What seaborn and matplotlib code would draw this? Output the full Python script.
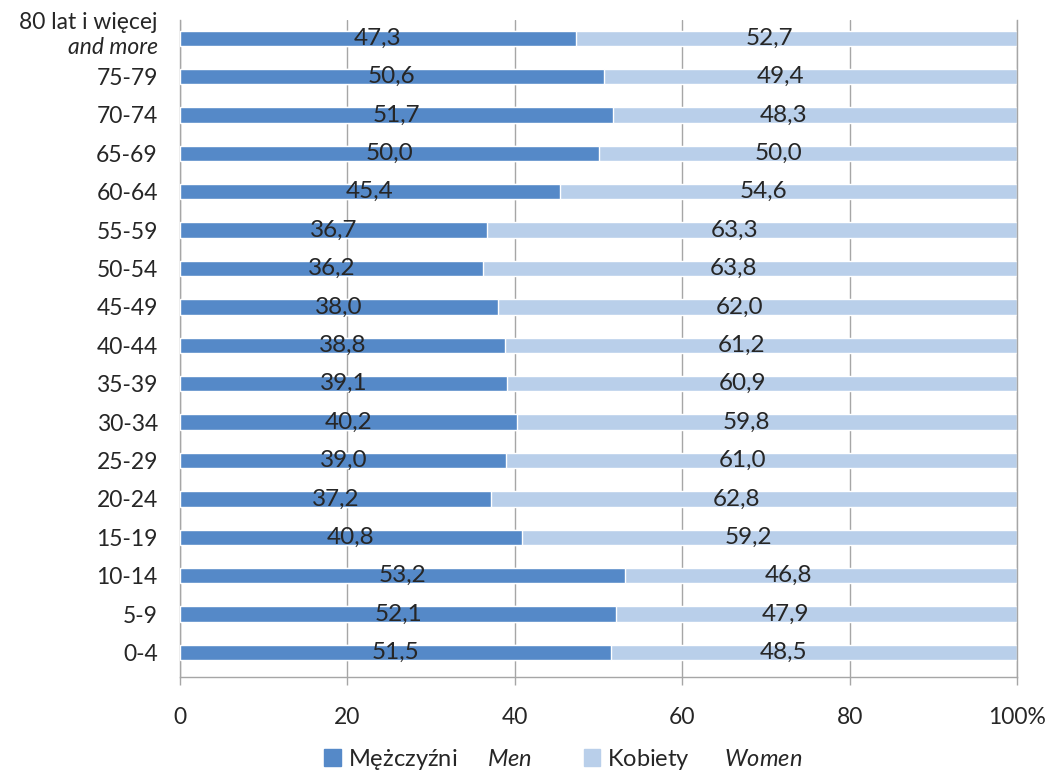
import matplotlib
matplotlib.use("Agg")
import matplotlib.pyplot as plt
import seaborn as sns
import pandas as pd
from matplotlib.patches import Patch

# grupy wieku, od góry do dołu
groups = ["80+", "75-79", "70-74", "65-69", "60-64", "55-59", "50-54", "45-49",
          "40-44", "35-39", "30-34", "25-29", "20-24", "15-19", "10-14", "5-9", "0-4"]
men = [47.3, 50.6, 51.7, 50.0, 45.4, 36.7, 36.2, 38.0, 38.8, 39.1, 40.2, 39.0,
       37.2, 40.8, 53.2, 52.1, 51.5]
women = [52.7, 49.4, 48.3, 50.0, 54.6, 63.3, 63.8, 62.0, 61.2, 60.9, 59.8, 61.0,
         62.8, 59.2, 46.8, 47.9, 48.5]
xticks = [0, 20, 40, 60, 80, 100]
xticklabels = ["0", "20", "40", "60", "80", "100%"]

c_men = "#5589C8"
c_women = "#B9CFEA"
txt = "#262626"
grey = "#A6A6A6"

sns.set_style("white")
plt.rcParams["font.family"] = ["Lato", "DejaVu Sans"]
plt.rcParams["mathtext.fontset"] = "custom"
plt.rcParams["mathtext.it"] = "Lato:italic"
plt.rcParams["mathtext.rm"] = "Lato"

df = pd.DataFrame({"grupa": groups, "men": men, "women": women})
df["total"] = df["men"] + df["women"]

fig = plt.figure(figsize=(10.53, 7.75), dpi=100)
ax = fig.add_axes([0.171, 0.126, 0.7948, 0.848])

sns.barplot(data=df, x="total", y="grupa", color=c_women, width=0.4,
            saturation=1, orient="h", ax=ax, zorder=2)
sns.barplot(data=df, x="men", y="grupa", color=c_men, width=0.4,
            saturation=1, orient="h", ax=ax, zorder=3)

# etykiety wartości
for i, (m, w) in enumerate(zip(men, women)):
    ax.text(m / 2, i, f"{m:.1f}".replace(".", ","), ha="center", va="center",
            fontsize=17.5, color=txt, zorder=4)
    ax.text(m + 0.61 * w - 9, i, f"{w:.1f}".replace(".", ","), ha="center",
            va="center", fontsize=17.5, color=txt, zorder=4)

ax.set_xlim(0, 100)
ax.set_ylim(len(groups) - 0.35, -0.47)
ax.set_xticks(xticks)
ax.set_xticklabels(xticklabels)
ax.set_xlabel("")
ax.set_ylabel("")
ax.xaxis.grid(True, color=grey, linewidth=1)
ax.set_axisbelow(True)
ax.tick_params(axis="x", direction="out", length=6, width=1, color=grey,
               labelsize=16.5, labelcolor=txt, pad=15, bottom=True)
ax.tick_params(axis="y", length=0, labelsize=16.5, labelcolor=txt, pad=16)
for s in ["left", "bottom", "right"]:
    ax.spines[s].set_color(grey)
    ax.spines[s].set_linewidth(1)
ax.spines["top"].set_visible(False)

# dwuwierszowa etykieta najstarszej grupy
labels = [t.get_text() for t in ax.get_yticklabels()]
labels[0] = ""
ax.set_yticklabels(labels)
ax.annotate("80 lat i więcej", xy=(0, 0), xycoords=ax.get_yaxis_transform(),
            xytext=(-16, 11), textcoords="offset points", ha="right", va="center",
            fontsize=16.5, color=txt)
ax.annotate("and more", xy=(0, 0), xycoords=ax.get_yaxis_transform(),
            xytext=(-16, -6.5), textcoords="offset points", ha="right", va="center",
            fontsize=16.5, color=txt, style="italic")

handles = [Patch(color=c_men), Patch(color=c_women)]
fig.legend(handles, ["Mężczyźni     $\\mathit{Men}$", "Kobiety      $\\mathit{Women}$"],
           loc="center", bbox_to_anchor=(0.535, 0.02), ncol=2, frameon=False,
           fontsize=17, handlelength=0.7, handleheight=0.7, handletextpad=0.3,
           columnspacing=2.2, labelcolor=txt)

fig.savefig("out.png", dpi=100)
